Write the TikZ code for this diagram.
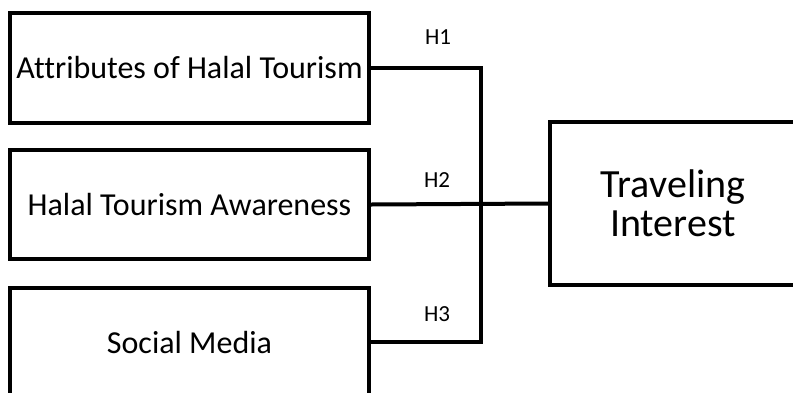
\documentclass[tikz,border=0pt]{standalone}
\usepackage{fontspec}
\setmainfont{Carlito}[Ligatures=NoCommon]
\begin{document}
\begin{tikzpicture}[x=1pt,y=-1pt,
  box/.style={draw=black,line width=4pt,rectangle,inner sep=0pt,font=\fontsize{32}{36}\selectfont},
  hlab/.style={font=\fontsize{23}{26}\selectfont,inner sep=0pt},
  conn/.style={draw=black,line width=4pt,line join=miter}]
\useasboundingbox (0,0) rectangle (793,392);
\node[box,minimum width=359pt,minimum height=110pt] (a) at (189.5,68) {Attributes of Halal Tourism};
\node[box,minimum width=359pt,minimum height=109pt] (b) at (189.5,204.5) {Halal Tourism Awareness};
\node[box,minimum width=359pt,minimum height=108pt] (c) at (189.5,342) {Social Media};
\node[box,minimum width=246pt,minimum height=163pt,align=center,font=\fontsize{40}{40}\selectfont] (t) at (673,203.5) {Traveling\\[-1pt]Interest};
\coordinate (j1) at (481,68);
\coordinate (j3) at (481,342);
\path[conn] (a.east) -- (j1) -- (j3) -- (c.east);
\path[conn] (b.east) -- (t.west);
\node[hlab] (h1) at (438,37) {H1};
\node[hlab] (h2) at (437,180) {H2};
\node[hlab] (h3) at (437,314) {H3};
\end{tikzpicture}
\end{document}
